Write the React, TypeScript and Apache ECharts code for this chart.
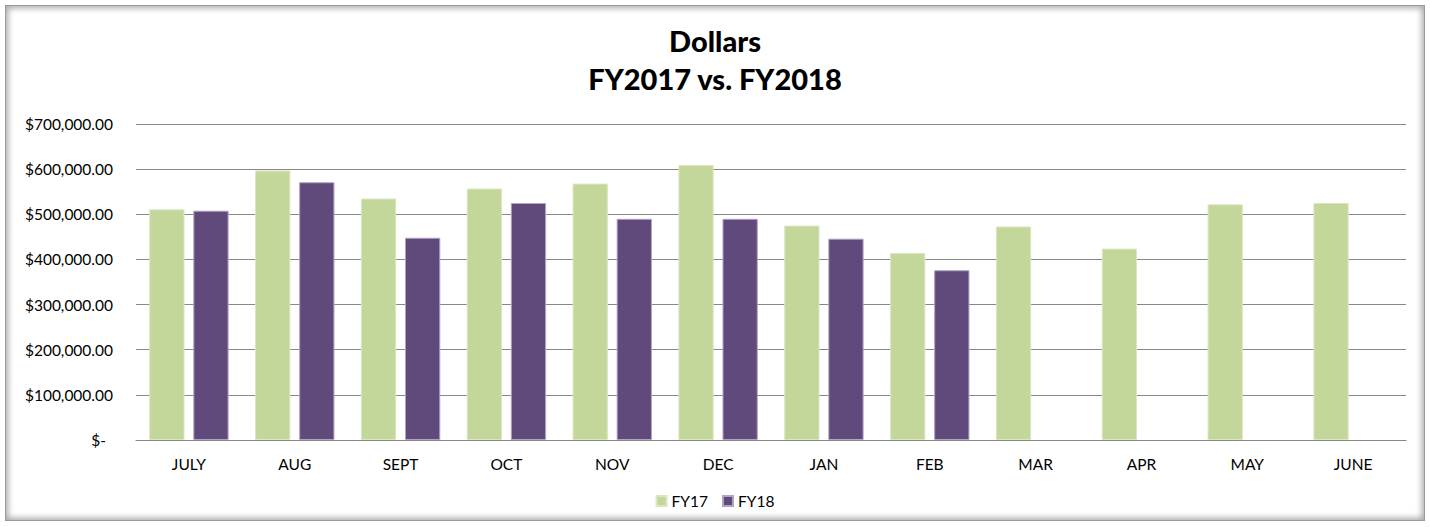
import React, { useEffect, useRef } from "react";
import * as echarts from "echarts";

const categories = ["JULY", "AUG", "SEPT", "OCT", "NOV", "DEC", "JAN", "FEB", "MAR", "APR", "MAY", "JUNE"];
const fy17 = [511000, 597000, 535000, 557000, 568000, 609000, 475000, 414000, 473000, 424000, 522000, 525000];
const fy18: (number | null)[] = [508000, 571000, 448000, 525000, 490000, 490000, 446000, 376000, null, null, null, null];
const yTicks = { min: 0, max: 700000, interval: 100000 };
const titleLines = ["Dollars", "FY2017 vs. FY2018"];
const seriesNames = ["FY17", "FY18"];

const FONT = "Lato, 'Open Sans', sans-serif";

function fmt(v: number): string {
  if (v === 0) return "{z|$-}";
  return "$" + v.toLocaleString("en-US", { minimumFractionDigits: 2, maximumFractionDigits: 2 });
}

export default function App() {
  const ref = useRef<HTMLDivElement>(null);
  useEffect(() => {
    if (!ref.current) return;
    const chart = echarts.init(ref.current, undefined, { renderer: "svg" });
    chart.setOption({
      animation: false,
      backgroundColor: "#ffffff",
      title: {
        text: titleLines.join("\n"),
        left: "center",
        top: 16,
        textStyle: { fontFamily: FONT, fontSize: 29, fontWeight: 900, color: "#000", lineHeight: 38 },
      },
      legend: {
        bottom: 13,
        left: "center",
        itemWidth: 10,
        itemHeight: 10,
        itemGap: 14,
        icon: "rect",
        textStyle: { fontFamily: FONT, fontSize: 15.5, color: "#000" },
        data: seriesNames,
      },
      grid: { left: 136, right: 24, top: 124, bottom: 87, containLabel: false },
      xAxis: {
        type: "category",
        data: categories,
        axisTick: { show: false },
        axisLine: { lineStyle: { color: "#888888", width: 1.2 } },
        axisLabel: { fontFamily: FONT, fontSize: 15.5, color: "#000", margin: 16 },
      },
      yAxis: {
        type: "value",
        min: yTicks.min,
        max: yTicks.max,
        interval: yTicks.interval,
        axisLine: { show: false },
        axisTick: { show: false },
        splitLine: { lineStyle: { color: "#888888", width: 1.2 } },
        axisLabel: {
          fontFamily: FONT,
          fontSize: 15.5,
          color: "#000",
          margin: 23,
          formatter: (v: number) => fmt(v),
          rich: { z: { fontFamily: FONT, fontSize: 15.5, color: "#000", padding: [0, 7, 0, 0] } },
        },
      },
      series: [
        {
          name: seriesNames[0],
          type: "bar",
          data: fy17,
          barGap: "25%",
          barCategoryGap: "25%",
          itemStyle: { color: "#c4d79b", borderColor: "#dbe6c2", borderWidth: 1 },
        },
        {
          name: seriesNames[1],
          type: "bar",
          data: fy18,
          itemStyle: { color: "#604a7b", borderColor: "#b1a3c3", borderWidth: 1 },
        },
      ],
    });
    return () => chart.dispose();
  }, []);
  return (
    <div style={{ position: "fixed", left: 0, top: 0, width: 1430, height: 527, background: "#fff" }}>
      <div ref={ref} style={{ position: "absolute", left: 0, top: 0, width: 1430, height: 527 }} />
      <div
        style={{
          position: "absolute",
          left: 5,
          top: 5,
          width: 1418,
          height: 514,
          border: "1px solid #9a9a9a",
          boxShadow: "inset 0 0 6px 2px rgba(0,0,0,0.35)",
          pointerEvents: "none",
        }}
      />
    </div>
  );
}
